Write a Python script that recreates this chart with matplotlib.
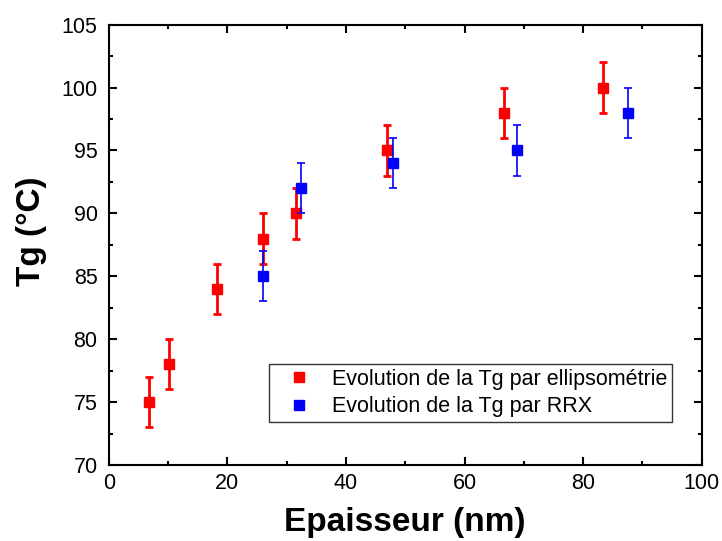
import matplotlib
matplotlib.use("Agg")
import matplotlib.pyplot as plt
from matplotlib.ticker import MultipleLocator

plt.rcParams['font.family'] = ['Liberation Sans', 'DejaVu Sans']

ell_x = [6.8, 10.1, 18.2, 26.0, 31.5, 47.0, 66.7, 83.4]
ell_y = [75, 78, 84, 88, 90, 95, 98, 100]
ell_err = [2, 2, 2, 2, 2, 2, 2, 2]

rrx_x = [26.0, 32.4, 47.9, 68.9, 87.5]
rrx_y = [85, 92, 94, 95, 98]
rrx_err = [2, 2, 2, 2, 2]

fig = plt.figure(figsize=(7.22, 5.41), dpi=100)
ax = fig.add_axes([0.1506, 0.1405, 0.8213, 0.814])

ax.errorbar(ell_x, ell_y, yerr=ell_err, fmt='s', color='#ff0000', ecolor='#ff0000',
            markersize=7, elinewidth=2, capsize=3, capthick=2,
            label='Evolution de la Tg par ellipsométrie', zorder=3)
ax.errorbar(rrx_x, rrx_y, yerr=rrx_err, fmt='s', color='#0000ff', ecolor='#0000ff',
            markersize=7, elinewidth=1.2, capsize=3, capthick=1.2,
            label='Evolution de la Tg par RRX', zorder=4)

ax.set_xlim(0, 100)
ax.set_ylim(70, 105)
ax.xaxis.set_major_locator(MultipleLocator(20))
ax.xaxis.set_minor_locator(MultipleLocator(10))
ax.yaxis.set_major_locator(MultipleLocator(5))
ax.yaxis.set_minor_locator(MultipleLocator(2.5))
ax.tick_params(which='both', direction='in', top=True, right=True, width=1.5)
ax.tick_params(which='major', length=6, labelsize=15.5, pad=6)
ax.tick_params(axis='y', which='major', pad=8)
ax.tick_params(which='minor', length=3)
for s in ax.spines.values():
    s.set_linewidth(1.5)

ax.set_xlabel('Epaisseur (nm)', fontsize=24, fontweight='bold', labelpad=9)
ax.set_ylabel('Tg (°C)', fontsize=24, fontweight='bold')
ax.yaxis.set_label_coords(-0.104, 0.53)

handles, labels = ax.get_legend_handles_labels()
handles = [h[0] for h in handles]
leg = ax.legend(handles, labels, loc='upper left', bbox_to_anchor=(0.2703, 0.2293),
                fontsize=15.5, frameon=True, fancybox=False, edgecolor='black',
                handlelength=2.3, handletextpad=0.4, borderpad=0.22, labelspacing=0.3,
                borderaxespad=0, markerscale=1.0)
leg.get_frame().set_linewidth(1.0)

fig.savefig('out.png', dpi=100)
